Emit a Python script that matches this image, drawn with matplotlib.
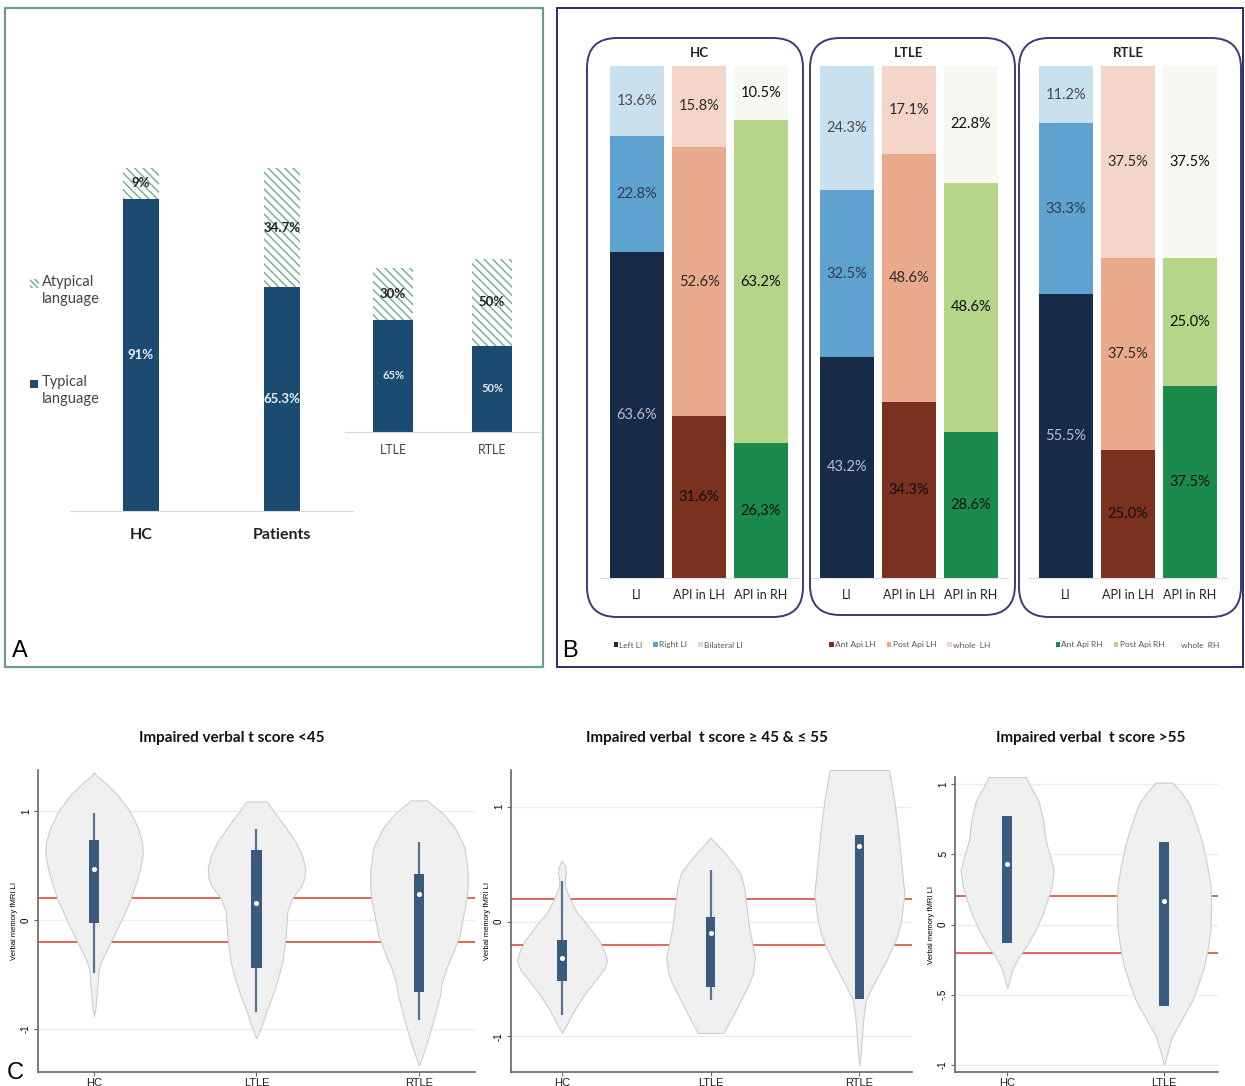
import numpy as np
import matplotlib
matplotlib.use("Agg")
import matplotlib.pyplot as plt
from matplotlib.patches import Rectangle, FancyBboxPatch, Patch

plt.rcParams['font.family'] = ['Lato', 'DejaVu Sans']
plt.rcParams['hatch.linewidth'] = 1.0

W, H = 1245, 1086

# ---- panel A: language lateralisation
a_groups = ["HC", "Patients"]
a_typical = [91, 65.3]
a_atypical = [9, 34.7]
a_typ_labels = ["91%", "65.3%"]
a_atyp_labels = ["9%", "34.7%"]

a_sub_groups = ["LTLE", "RTLE"]
a_sub_typical = [65, 50]
a_sub_atypical = [30, 50]
a_sub_typ_labels = ["65%", "50%"]
a_sub_atyp_labels = ["30%", "50%"]

a_legend = ["Atypical\nlanguage", "Typical\nlanguage"]

# ---- panel B: LI / API per group (HC, LTLE, RTLE)
b_groups = ["HC", "LTLE", "RTLE"]
b_cats = ["LI", "API in LH", "API in RH"]
li_left = [63.6, 43.2, 55.5]
li_right = [22.8, 32.5, 33.3]
li_bilat = [13.6, 24.3, 11.2]
lh_ant = [31.6, 34.3, 25.0]
lh_post = [52.6, 48.6, 37.5]
lh_whole = [15.8, 17.1, 37.5]
rh_ant = [26.3, 28.6, 37.5]
rh_post = [63.2, 48.6, 25.0]
rh_whole = [10.5, 22.8, 37.5]
rh_ant_labels = ["26,3%", "28.6%", "37.5%"]

b_legend = [["Left LI", "Right LI", "Bilateral LI"],
            ["Ant Api LH", "Post Api LH", "whole  LH"],
            ["Ant Api RH", "Post Api RH", "whole  RH"]]

# ---- panel C: violin outlines (y, half width) and box stats
c_titles = ["Impaired verbal t score <45",
            "Impaired verbal  t score \u2265 45 & \u2264 55",
            "Impaired verbal  t score >55"]

c1_groups = ["HC", "LTLE", "RTLE"]
c1_vy = [[1.36, 1.32, 1.26, 1.16, 1.00, 0.85, 0.72, 0.60, 0.45, 0.35, 0.17, -0.07, -0.24, -0.32,
          -0.38, -0.45, -0.54, -0.69, -0.82, -0.89],
         [1.09, 0.97, 0.85, 0.72, 0.60, 0.48, 0.38, 0.30, 0.20, 0.08, -0.14, -0.38, -0.55, -0.69,
          -0.84, -0.94, -1.05, -1.09],
         [1.10, 0.97, 0.85, 0.67, 0.45, 0.30, 0.17, -0.14, -0.30, -0.44, -0.58, -0.69, -0.94,
          -1.15, -1.28, -1.34]]
c1_hw = [[0.0, 0.02, 0.07, 0.14, 0.22, 0.27, 0.295, 0.30, 0.28, 0.26, 0.22, 0.146, 0.09, 0.064,
          0.045, 0.03, 0.025, 0.016, 0.008, 0.0],
         [0.062, 0.12, 0.18, 0.24, 0.28, 0.30, 0.295, 0.27, 0.22, 0.19, 0.18, 0.16, 0.13, 0.10,
          0.06, 0.04, 0.012, 0.0],
         [0.05, 0.154, 0.22, 0.28, 0.30, 0.30, 0.29, 0.25, 0.21, 0.17, 0.14, 0.13, 0.086, 0.045,
          0.015, 0.0]]
c1_q1 = [-0.03, -0.44, -0.66]
c1_q3 = [0.74, 0.64, 0.42]
c1_med = [0.47, 0.16, 0.24]
c1_wlo = [-0.49, -0.85, -0.92]
c1_whi = [0.98, 0.84, 0.72]

c2_groups = ["HC", "LTLE", "RTLE"]
c2_vy = [[0.53, 0.48, 0.42, 0.36, 0.30, 0.22, 0.16, 0.08, 0.01, -0.08, -0.16, -0.26, -0.34,
          -0.42, -0.51, -0.61, -0.71, -0.80, -0.89, -0.97],
         [0.73, 0.66, 0.59, 0.50, 0.42, 0.30, 0.19, -0.05, -0.31, -0.45, -0.57, -0.70, -0.80,
          -0.90, -0.97],
         [1.32, 1.05, 0.82, 0.53, 0.24, 0.01, -0.12, -0.22, -0.34, -0.45, -0.57, -0.68, -0.80,
          -0.92, -1.10, -1.25]]
c2_hw = [[0.0, 0.022, 0.027, 0.018, 0.022, 0.045, 0.067, 0.10, 0.146, 0.20, 0.247, 0.285, 0.303,
          0.28, 0.224, 0.165, 0.112, 0.07, 0.034, 0.0],
         [0.0, 0.05, 0.10, 0.155, 0.20, 0.225, 0.235, 0.258, 0.298, 0.285, 0.247, 0.195, 0.157,
          0.115, 0.085],
         [0.20, 0.235, 0.258, 0.28, 0.303, 0.28, 0.255, 0.224, 0.18, 0.135, 0.085, 0.045, 0.03,
          0.022, 0.012, 0.0]]
c2_q1 = [-0.52, -0.57, -0.67]
c2_q3 = [-0.16, 0.04, 0.75]
c2_med = [-0.32, -0.10, 0.66]
c2_wlo = [-0.81, -0.68, -0.67]
c2_whi = [0.35, 0.45, 0.75]

c3_groups = ["HC", "LTLE"]
c3_vy = [[1.05, 0.96, 0.88, 0.74, 0.60, 0.50, 0.39, 0.28, 0.17, 0.06, -0.04, -0.14, -0.23,
          -0.28, -0.32, -0.38, -0.45],
         [1.01, 0.94, 0.86, 0.72, 0.58, 0.42, 0.27, 0.12, -0.02, -0.16, -0.30, -0.42, -0.54,
          -0.64, -0.73, -0.80, -0.87, -0.94, -1.0]]
c3_hw = [[0.117, 0.16, 0.20, 0.23, 0.244, 0.27, 0.297, 0.285, 0.255, 0.22, 0.18, 0.13, 0.074,
          0.05, 0.032, 0.018, 0.0],
         [0.053, 0.11, 0.16, 0.205, 0.244, 0.275, 0.297, 0.30, 0.297, 0.28, 0.255, 0.22, 0.18,
          0.13, 0.085, 0.05, 0.032, 0.015, 0.0]]
c3_q1 = [-0.13, -0.58]
c3_q3 = [0.77, 0.59]
c3_med = [0.43, 0.17]
c3_wlo = [-0.13, -0.58]
c3_whi = [0.77, 0.59]

# colours
blue_a = "#1c4b72"
hatch_green = "#6fae90"
b_colors = [["#172a48", "#5ea3cf", "#c9e0ee"],
            ["#7a3120", "#eaab8c", "#f5d5c9"],
            ["#1a8b4c", "#b5d588", "#f6f8f1"]]
b_txt = [["#b9bfcc", "#2f3d52", "#4a4a4a"],
         ["#111111", "#2a2a2a", "#2a2a2a"],
         ["#111111", "#111111", "#111111"]]


def px_rect(x0, y0, x1, y1):
    return [x0 / W, 1 - y1 / H, (x1 - x0) / W, (y1 - y0) / H]


fig = plt.figure(figsize=(12.45, 10.86), dpi=100, facecolor="white")

# ================= panel A
axA = fig.add_axes(px_rect(70, 168, 353, 511))
axA.patch.set_alpha(0)
xa = np.arange(len(a_groups))
r1 = axA.bar(xa, a_typical, width=0.255, color=blue_a)
r2 = axA.bar(xa, a_atypical, bottom=a_typical, width=0.255, facecolor="white",
             edgecolor=hatch_green, hatch="\\\\\\\\", linewidth=0)
axA.bar_label(r1, labels=a_typ_labels, label_type="center", color="#e8eef4",
              fontsize=9.5, fontweight="bold")
axA.bar_label(r2, labels=a_atyp_labels, label_type="center", color="#222222",
              fontsize=9.5, fontweight="bold")
axA.set_xlim(-0.503, 1.503)
axA.set_ylim(0, 100)
for s in ["top", "right", "left"]:
    axA.spines[s].set_visible(False)
axA.spines["bottom"].set_color("#d9d9d9")
axA.set_yticks([])
axA.set_xticks(xa)
axA.set_xticklabels(a_groups, fontsize=11.5, fontweight="bold", color="#222222")
axA.tick_params(axis="x", length=0, pad=12)

axA2 = fig.add_axes(px_rect(345, 259, 540, 432))
axA2.patch.set_alpha(0)
xs = np.arange(len(a_sub_groups))
s1 = axA2.bar(xs, a_sub_typical, width=0.404, color=blue_a)
s2 = axA2.bar(xs, a_sub_atypical, bottom=a_sub_typical, width=0.404, facecolor="white",
              edgecolor=hatch_green, hatch="\\\\\\\\", linewidth=0)
axA2.bar_label(s1, labels=a_sub_typ_labels, label_type="center", color="#dfe6ee",
               fontsize=8, fontweight="bold")
axA2.bar_label(s2, labels=a_sub_atyp_labels, label_type="center", color="#222222",
               fontsize=9.5, fontweight="bold")
axA2.set_xlim(-0.485, 1.485)
axA2.set_ylim(0, 100)
for s in ["top", "right", "left"]:
    axA2.spines[s].set_visible(False)
axA2.spines["bottom"].set_color("#d9d9d9")
axA2.set_yticks([])
axA2.set_xticks(xs)
axA2.set_xticklabels(a_sub_groups, fontsize=9, color="#444444")
axA2.tick_params(axis="x", length=0, pad=9)

# ================= panel B
stacks = [(li_left, li_right, li_bilat), (lh_ant, lh_post, lh_whole), (rh_ant, rh_post, rh_whole)]
b_centers = [637, 847, 1066]
for i, g in enumerate(b_groups):
    x0 = b_centers[i] - 0.6 * 62
    ax = fig.add_axes(px_rect(x0, 66, x0 + 3.2 * 62, 578))
    ax.patch.set_alpha(0)
    for j in range(len(b_cats)):
        bottom = 0
        for k, series in enumerate(stacks[j]):
            v = series[i]
            rect = ax.bar(j, v, bottom=bottom, width=0.87, color=b_colors[j][k])
            if j == 2 and k == 0:
                lab = rh_ant_labels[i]
            else:
                lab = f"{v:.1f}%"
            ax.bar_label(rect, labels=[lab], label_type="center", fontsize=10.5,
                         color=b_txt[j][k])
            bottom += v
    ax.set_xlim(-0.6, 2.6)
    ax.set_ylim(0, 100)
    for s in ["top", "right", "left"]:
        ax.spines[s].set_visible(False)
    ax.spines["bottom"].set_color("#dddddd")
    ax.set_yticks([])
    ax.set_xticks(range(len(b_cats)))
    ax.set_xticklabels(b_cats, fontsize=9, color="#222222")
    ax.tick_params(axis="x", length=0, pad=8)
    ax.text(1, 102.5, g, ha="center", va="center", fontsize=9.5, fontweight="bold",
            color="#222222")

leg_x = [606, 822, 1048]
for j in range(3):
    handles = [Patch(facecolor=c) for c in b_colors[j]]
    fig.legend(handles, b_legend[j], loc="center left",
               bbox_to_anchor=(leg_x[j] / W, 1 - 645 / H), ncol=3, frameon=False,
               fontsize=6, labelcolor="#555555", handlelength=0.55, handleheight=0.55,
               handletextpad=0.15, columnspacing=1.3)


# ================= panel C
def violin_panel(rect, groups, vys, hws, q1, q3, med, wlo, whi, yticks, yticklabels, ylim, xlim):
    ax = fig.add_axes(rect)
    for p, g in enumerate(groups):
        pos = p + 1
        vy = np.array(vys[p])
        hw = np.array(hws[p])
        ax.fill_betweenx(vy, pos - hw, pos + hw, facecolor="#f0f0f0",
                         edgecolor="#cdcdcd", linewidth=0.8, zorder=2)
        ax.vlines(pos, wlo[p], whi[p], color="#5b7190", linewidth=1.6, zorder=3)
        ax.bar(pos, q3[p] - q1[p], bottom=q1[p], width=0.062, color="#3b5b7e", zorder=4)
        ax.scatter([pos], [med[p]], s=7, color="white", zorder=5)
    for yv in [0.2, -0.2]:
        ax.axhline(yv, color="#d9695a", linewidth=1.4, zorder=1)
    ax.set_xlim(*xlim)
    ax.set_ylim(*ylim)
    ax.set_yticks(yticks)
    ax.set_yticklabels(yticklabels, rotation=90, va="center", fontsize=7,
                       family=["Liberation Sans", "DejaVu Sans"])
    ax.yaxis.grid(True, color="#e8eef4", linewidth=1)
    ax.set_axisbelow(True)
    ax.set_xticks(range(1, len(groups) + 1))
    ax.set_xticklabels(groups, fontsize=8, family=["Liberation Sans", "DejaVu Sans"],
                       color="#222222")
    ax.tick_params(axis="x", length=3, pad=1, color="#666666")
    ax.tick_params(axis="y", length=3, pad=2, color="#666666")
    ax.set_ylabel("Verbal memory fMRI LI", fontsize=5.5, labelpad=2,
                  family=["Liberation Sans", "DejaVu Sans"])
    for s in ["top", "right"]:
        ax.spines[s].set_visible(False)
    for s in ["left", "bottom"]:
        ax.spines[s].set_color("#666666")
        ax.spines[s].set_linewidth(1.2)
    return ax


violin_panel(px_rect(38, 770, 475, 1072), c1_groups, c1_vy, c1_hw, c1_q1, c1_q3, c1_med,
             c1_wlo, c1_whi, [1, 0, -1], ["1", "0", "-1"], (-1.4, 1.38), (0.655, 3.345))
violin_panel(px_rect(511, 770, 912, 1072), c2_groups, c2_vy, c2_hw, c2_q1, c2_q3, c2_med,
             c2_wlo, c2_whi, [1, 0, -1], ["1", "0", "-1"], (-1.31, 1.32), (0.657, 3.354))
violin_panel(px_rect(955, 777, 1218, 1072), c3_groups, c3_vy, c3_hw, c3_q1, c3_q3, c3_med,
             c3_wlo, c3_whi, [1, 0.5, 0, -0.5, -1], ["1", ".5", "0", "-.5", "-1"],
             (-1.05, 1.05), (0.667, 2.344))

# ================= overlay: frames, rounded boxes, legend A, letters, titles
ov = fig.add_axes([0, 0, 1, 1])
ov.set_xlim(0, W)
ov.set_ylim(H, 0)
ov.axis("off")
ov.patch.set_alpha(0)
ov.set_zorder(10)

ov.add_patch(Rectangle((5, 8), 538, 659, fill=False, edgecolor="#6d9f84", linewidth=1.6))
ov.add_patch(Rectangle((557, 8), 686, 659, fill=False, edgecolor="#2f2d6a", linewidth=1.4))
for (x0, y0, x1, y1) in [(587, 38, 803, 617), (810, 38, 1015, 615), (1019, 38, 1241, 617)]:
    ov.add_patch(FancyBboxPatch((x0, y0), x1 - x0, y1 - y0,
                                boxstyle="round,pad=0,rounding_size=30",
                                fill=False, edgecolor="#3a3a74", linewidth=1.4))

# legend of panel A (hatched = atypical, solid = typical)
ov.add_patch(Rectangle((30, 279), 9, 9, facecolor="white", edgecolor=hatch_green,
                       hatch="\\\\\\\\\\\\", linewidth=0))
ov.add_patch(Rectangle((30, 380), 8, 8, facecolor=blue_a, linewidth=0))
ov.text(42, 275, a_legend[0], fontsize=10.5, color="#444444", va="top", ha="left",
        linespacing=1.25)
ov.text(42, 375, a_legend[1], fontsize=10.5, color="#444444", va="top", ha="left",
        linespacing=1.25)

letter_font = ["Liberation Sans", "DejaVu Sans"]
ov.text(12, 651, "A", fontsize=17, family=letter_font, va="center", ha="left")
ov.text(562, 651, "B", fontsize=17, family=letter_font, va="center", ha="left")
ov.text(7, 1073, "C", fontsize=17, family=letter_font, va="center", ha="left")

for tx, t in zip([232, 707, 1091], c_titles):
    ov.text(tx, 738, t, fontsize=11, fontweight="bold", ha="center", va="center",
            color="#111111")

fig.savefig("out.png", dpi=100)
